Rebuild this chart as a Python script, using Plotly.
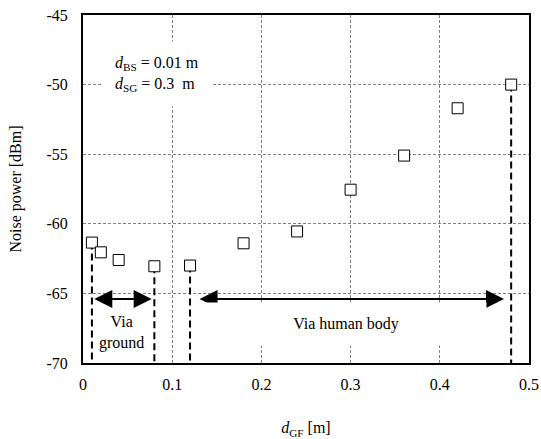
import plotly.graph_objects as go

# ---- data ----
d_gf = [0.01, 0.02, 0.04, 0.08, 0.12, 0.18, 0.24, 0.30, 0.36, 0.42, 0.48]
noise_dbm = [-61.35, -62.05, -62.6, -63.05, -63.0, -61.4, -60.55, -57.55, -55.1, -51.7, -50.0]
boundary_x = [0.01, 0.08, 0.12, 0.48]          # points marked with dashed drop lines
ground_range = [0.011, 0.077]                   # "Via ground" arrow span
body_range = [0.129, 0.472]                     # "Via human body" arrow span
arrow_level = -65.4
x_ticks = [0, 0.1, 0.2, 0.3, 0.4, 0.5]
x_tick_labels = ["0", "0.1", "0.2", "0.3", "0.4", "0.5"]
y_ticks = [-70, -65, -60, -55, -50, -45]
y_tick_labels = ["-70", "-65", "-60", "-55", "-50", "-45"]
y_min, y_max = -70, -45

FONT = "Liberation Serif"

fig = go.Figure()

# dashed drop lines
for bx in boundary_x:
    by = noise_dbm[d_gf.index(bx)]
    fig.add_trace(go.Scatter(
        x=[bx, bx], y=[by, y_min], mode="lines",
        line=dict(color="black", width=2, dash="7px,4px"),
        hoverinfo="skip", showlegend=False, cliponaxis=False))

# markers
fig.add_trace(go.Scatter(
    x=d_gf, y=noise_dbm, mode="markers",
    marker=dict(symbol="square", size=11, color="white",
                line=dict(color="black", width=1)),
    showlegend=False))

annotations = [
    # via ground double arrow
    dict(x=ground_range[1], y=arrow_level, ax=ground_range[0], ay=arrow_level,
         xref="x", yref="y", axref="x", ayref="y", text="", showarrow=True,
         arrowhead=2, startarrowhead=2, arrowside="end+start",
         arrowsize=1.8, startarrowsize=1.8, arrowwidth=2, arrowcolor="black"),
    # via human body double arrow
    dict(x=body_range[1], y=arrow_level, ax=body_range[0], ay=arrow_level,
         xref="x", yref="y", axref="x", ayref="y", text="", showarrow=True,
         arrowhead=2, startarrowhead=2, arrowside="end+start",
         arrowsize=1.8, startarrowsize=1.8, arrowwidth=2, arrowcolor="black"),
    dict(x=0.043, y=-67.8, xref="x", yref="y",
         text="Via<br>ground", showarrow=False,
         font=dict(family=FONT, size=16, color="black")),
    dict(x=0.295, y=-67.2, xref="x", yref="y", text="Via human body",
         showarrow=False, bgcolor="white", width=260, height=22, borderpad=10,
         font=dict(family=FONT, size=16, color="black")),
    dict(x=0.083, y=-49.25, xref="x", yref="y",
         text="<i>d</i><sub>BS</sub> = 0.01 m<br><i>d</i><sub>SG</sub> = 0.3  m",
         align="left", showarrow=False, bgcolor="white", borderpad=12,
         font=dict(family=FONT, size=16, color="black")),
]

axis_common = dict(
    showline=True, linecolor="black", linewidth=2, mirror=True,
    showgrid=True, gridcolor="#808080", gridwidth=1, griddash="3px,2px",
    zeroline=False, ticks="", automargin=False, ticklabeloverflow="allow",
    tickfont=dict(family=FONT, size=16, color="black"),
)

fig.update_layout(
    width=541, height=439,
    margin=dict(l=83, r=12, t=15, b=76),
    paper_bgcolor="white", plot_bgcolor="white",
    font=dict(family=FONT, size=16, color="black"),
    annotations=annotations,
    xaxis=dict(range=[0, 0.5], tickvals=x_ticks, ticktext=x_tick_labels,
               title=dict(text="<i>d</i><sub>GF</sub> [m]", standoff=30,
                          font=dict(family=FONT, size=16)),
               ticklabelstandoff=6, **axis_common),
    yaxis=dict(range=[y_min, y_max], tickvals=y_ticks, ticktext=y_tick_labels,
               title=dict(text="Noise power [dBm]", standoff=21,
                          font=dict(family=FONT, size=16)),
               ticklabelstandoff=10, **axis_common),
)

# remove the browser's default 8px body margin so the figure fills the window
fig.write_html("out.html",
               config={"displayModeBar": False},
               post_script="document.body.style.margin='0';document.body.style.overflow='hidden';")
